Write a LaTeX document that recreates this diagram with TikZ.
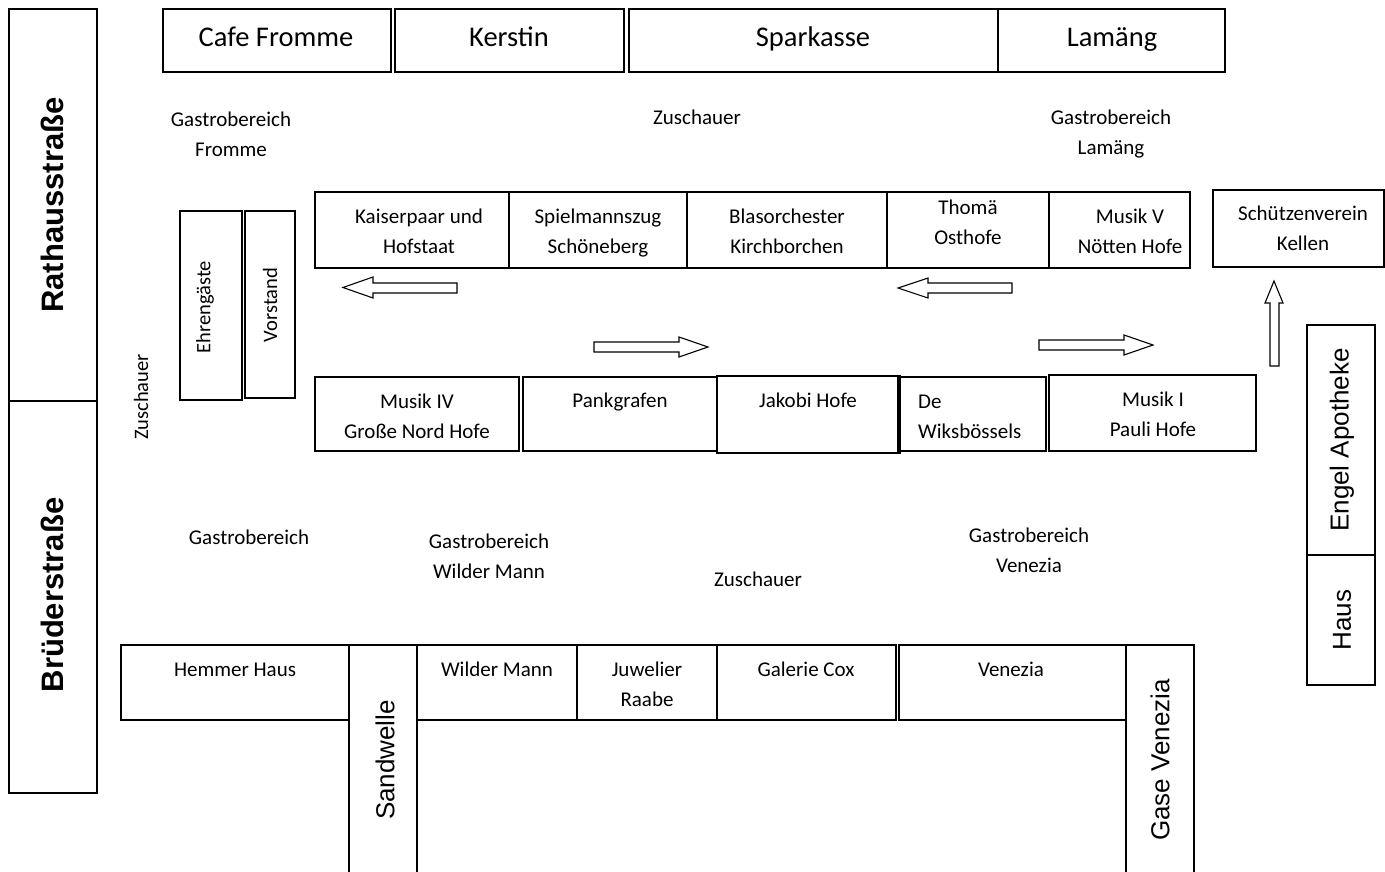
\documentclass[tikz,border=0pt]{standalone}
\usepackage{fontspec}
\setmainfont{Carlito}
\newfontfamily\arialfont{Liberation Sans}
\begin{document}
\begin{tikzpicture}[x=1pt,y=-1pt,
  wall/.style={draw=black, line width=1.1pt},
  lbl/.style={inner sep=0pt, align=center, anchor=base, font=\fontsize{21}{30}\selectfont},
  big/.style={inner sep=0pt, align=center, anchor=base, font=\fontsize{28.5}{34}\selectfont},
  street/.style={inner sep=0pt, rotate=90, font=\arialfont\bfseries\fontsize{31}{36}\selectfont},
  lane/.style={inner sep=0pt, rotate=90, font=\arialfont\fontsize{26}{30}\selectfont},
  rlbl/.style={inner sep=0pt, rotate=90, font=\fontsize{20.5}{24}\selectfont},
  flow/.style={draw=black, line width=1.1pt, fill=white, line join=miter}]
\useasboundingbox (0,0) rectangle (1385,872);

% streets left
\draw[wall] (9,9) rectangle (97,401);
\draw[wall] (9,401) rectangle (97,793);
\node[street] (rath) at (52,205) {Rathausstraße};
\node[street] (brud) at (52,595) {Brüderstraße};

% top buildings
\draw[wall] (163,9) rectangle (391,72);
\draw[wall] (395,9) rectangle (624,72);
\draw[wall] (629,9) rectangle (998,72);
\draw[wall] (998,9) rectangle (1225,72);
\node[big] (cafe) at (276,47) {Cafe Fromme};
\node[big] (kerstin) at (509,47) {Kerstin};
\node[big] (spark) at (813,47) {Sparkasse};
\node[big] (lamaeng) at (1112,47) {Lamäng};

% text areas
\node[lbl] (gfromme) at (231,157) {Gastrobereich\\Fromme};
\node[lbl] (zus1) at (697,125) {Zuschauer};
\node[lbl] (glamaeng) at (1111,155) {Gastrobereich\\Lamäng};
\node[rlbl] (zus2) at (141,397) {Zuschauer};

% tribune
\draw[wall] (180,211) rectangle (242,400);
\draw[wall] (245,211) rectangle (295,398);
\node[rlbl] (ehren) at (205,307) {Ehrengäste};
\node[rlbl] (vorst) at (270,305) {Vorstand};

% upper row of parade
\draw[wall] (315,192) rectangle (509,268);
\draw[wall] (509,192) rectangle (687,268);
\draw[wall] (687,192) rectangle (887,268);
\draw[wall] (887,192) rectangle (1049,268);
\draw[wall] (1049,192) rectangle (1190,268);
\draw[wall] (1213,190) rectangle (1384,267);
\node[lbl] (kaiser) at (419,253) {Kaiserpaar und\\Hofstaat};
\node[lbl] (spiel) at (598,253) {Spielmannszug\\Schöneberg};
\node[lbl] (blas) at (787,253) {Blasorchester\\Kirchborchen};
\node[lbl] (thoma) at (968,244) {Thomä\\Osthofe};
\node[lbl] (musik5) at (1130,253) {Musik V\\Nötten Hofe};
\node[lbl] (schuetz) at (1303,251) {Schützenverein\\Kellen};

% lower row of parade
\draw[wall] (315,377) rectangle (519,451);
\draw[wall] (523,377) rectangle (717,451);
\draw[wall] (717,376) rectangle (900,453);
\draw[wall] (898,377) rectangle (1046,451);
\draw[wall] (1049,375) rectangle (1256,451);
\node[lbl] (musik4) at (417,438) {Musik IV\\Große Nord Hofe};
\node[lbl] (pank) at (620,407) {Pankgrafen};
\node[lbl] (jakobi) at (808,407) {Jakobi Hofe};
\node[lbl, align=left, anchor=base west] (wiks) at (918,438) {De\\Wiksbössels};
\node[lbl] (musik1) at (1153,436) {Musik I\\Pauli Hofe};

% flow arrows
\draw[flow] (457,283) -- (373,283) -- (373,277) -- (343,287.5) -- (373,298) -- (373,293) -- (457,293) -- cycle;
\draw[flow] (1012,283) -- (928,283) -- (928,278) -- (898,288) -- (928,298) -- (928,293) -- (1012,293) -- cycle;
\draw[flow] (594,342) -- (679,342) -- (679,337) -- (708,347) -- (679,357) -- (679,352) -- (594,352) -- cycle;
\draw[flow] (1039,340) -- (1124,340) -- (1124,335) -- (1153,345) -- (1124,355) -- (1124,350) -- (1039,350) -- cycle;
\draw[flow] (1270,366) -- (1270,303) -- (1265,303) -- (1274,281) -- (1283,303) -- (1279,303) -- (1279,366) -- cycle;

% right side
\draw[wall] (1307,325) rectangle (1375,555);
\draw[wall] (1307,555) rectangle (1375,685);
\node[lane] (engel) at (1342,440) {Engel Apotheke};
\node[lane] (haus) at (1342,620) {Haus};

% lower text areas
\node[lbl] (gastro) at (249,544) {Gastrobereich};
\node[lbl] (gwilder) at (489,578) {Gastrobereich\\Wilder Mann};
\node[lbl] (zus3) at (758,586) {Zuschauer};
\node[lbl] (gvenezia) at (1029,572) {Gastrobereich\\Venezia};

% bottom buildings
\draw[wall] (121,645) rectangle (349,720);
\draw[wall] (349,645) -- (349,880);
\draw[wall] (349,645) -- (417,645);
\draw[wall] (417,645) -- (417,880);
\draw[wall] (417,645) rectangle (577,720);
\draw[wall] (577,645) rectangle (717,720);
\draw[wall] (717,645) rectangle (896,720);
\draw[wall] (899,645) rectangle (1126,720);
\draw[wall] (1126,645) -- (1194,645) -- (1194,880);
\draw[wall] (1126,720) -- (1126,880);
\node[lbl] (hemmer) at (235,676) {Hemmer Haus};
\node[lbl] (wilder) at (497,676) {Wilder Mann};
\node[lbl] (juwel) at (647,706) {Juwelier\\Raabe};
\node[lbl] (galerie) at (806,676) {Galerie Cox};
\node[lbl] (venezia) at (1011,676) {Venezia};
\node[lane] (sandw) at (385,760) {Sandwelle};
\node[lane] (gase) at (1160,760) {Gase Venezia};
\end{tikzpicture}
\end{document}
